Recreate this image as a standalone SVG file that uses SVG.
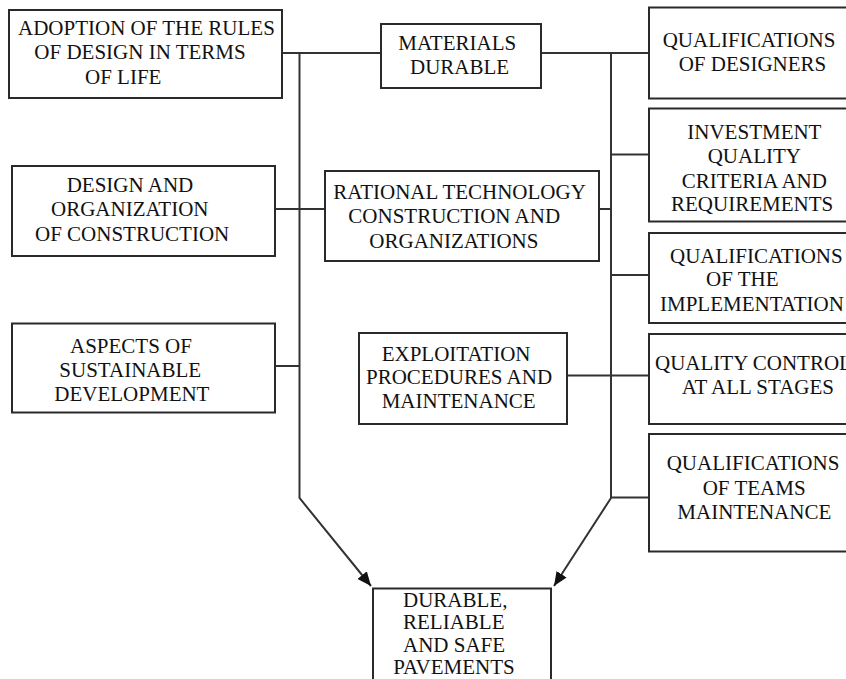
<svg xmlns="http://www.w3.org/2000/svg" width="846" height="679" viewBox="0 0 846 679">
<style>
.box{fill:#fff;stroke:#2a2a2a;stroke-width:2}
.t{font-family:"Liberation Serif","Times New Roman",serif;font-size:21px;fill:#111}
.c{fill:none;stroke:#333;stroke-width:2}
</style>
<defs>
<marker id="ah" markerUnits="userSpaceOnUse" markerWidth="16" markerHeight="12" refX="14" refY="6" orient="auto">
<path d="M0,0 L14,6 L0,12 Z" fill="#111"/>
</marker>
</defs>
<rect width="846" height="679" fill="#fff"/>
<g id="connectors">
<line class="c" x1="282" y1="53" x2="381" y2="53"/>
<line class="c" x1="541" y1="53" x2="649" y2="53"/>
<polyline class="c" points="299.5,53 299.5,498 371,586" marker-end="url(#ah)"/>
<polyline class="c" points="611,53 611,498 554,586" marker-end="url(#ah)"/>
<line class="c" x1="275" y1="209" x2="325" y2="209"/>
<line class="c" x1="599" y1="209" x2="611" y2="209"/>
<line class="c" x1="611" y1="154.5" x2="649" y2="154.5"/>
<line class="c" x1="611" y1="275" x2="649" y2="275"/>
<line class="c" x1="567" y1="375.5" x2="649" y2="375.5"/>
<line class="c" x1="275" y1="366" x2="299.5" y2="366"/>
<line class="c" x1="611" y1="497.5" x2="649" y2="497.5"/>
</g>
<g id="adoption">
<rect class="box" x="9" y="10" width="273" height="88"/>
<text class="t" x="18" y="34.5">ADOPTION OF THE RULES</text>
<text class="t" x="34.3" y="59">OF DESIGN IN TERMS</text>
<text class="t" x="85" y="83.5">OF LIFE</text>
</g>
<g id="materials">
<rect class="box" x="381" y="24" width="160" height="64"/>
<text class="t" x="398.3" y="50">MATERIALS</text>
<text class="t" x="410" y="74">DURABLE</text>
</g>
<g id="qual-designers">
<rect class="box" x="649" y="7.5" width="210" height="91"/>
<text class="t" x="662.7" y="47">QUALIFICATIONS</text>
<text class="t" x="678.7" y="71">OF DESIGNERS</text>
</g>
<g id="investment">
<rect class="box" x="649" y="108.5" width="210" height="113"/>
<text class="t" x="687.3" y="138.5">INVESTMENT</text>
<text class="t" x="707.7" y="163">QUALITY</text>
<text class="t" x="681.7" y="187.5">CRITERIA AND</text>
<text class="t" x="671" y="211">REQUIREMENTS</text>
</g>
<g id="design">
<rect class="box" x="12" y="166" width="263" height="90"/>
<text class="t" x="66.7" y="191.7">DESIGN AND</text>
<text class="t" x="51" y="215.7">ORGANIZATION</text>
<text class="t" x="35" y="240.7">OF CONSTRUCTION</text>
</g>
<g id="rational">
<rect class="box" x="325" y="171" width="274" height="90"/>
<text class="t" x="333.3" y="199">RATIONAL TECHNOLOGY</text>
<text class="t" x="348.3" y="223.3">CONSTRUCTION AND</text>
<text class="t" x="369.3" y="247.7">ORGANIZATIONS</text>
</g>
<g id="implementation">
<rect class="box" x="649" y="233" width="210" height="90"/>
<text class="t" x="670" y="263.3">QUALIFICATIONS</text>
<text class="t" x="706" y="286">OF THE</text>
<text class="t" x="660" y="310.7">IMPLEMENTATION</text>
</g>
<g id="aspects">
<rect class="box" x="12" y="323.5" width="263" height="89"/>
<text class="t" x="70" y="352.7">ASPECTS OF</text>
<text class="t" x="59.3" y="376.7">SUSTAINABLE</text>
<text class="t" x="54.3" y="400.7">DEVELOPMENT</text>
</g>
<g id="exploitation">
<rect class="box" x="359" y="333" width="208" height="91"/>
<text class="t" x="381.7" y="361">EXPLOITATION</text>
<text class="t" x="366" y="384.3">PROCEDURES AND</text>
<text class="t" x="381.7" y="408.3">MAINTENANCE</text>
</g>
<g id="quality-control">
<rect class="box" x="649" y="334" width="210" height="90"/>
<text class="t" x="655" y="370">QUALITY CONTROL</text>
<text class="t" x="681.7" y="394">AT ALL STAGES</text>
</g>
<g id="teams">
<rect class="box" x="649" y="434" width="210" height="117.5"/>
<text class="t" x="666.7" y="470">QUALIFICATIONS</text>
<text class="t" x="702.7" y="495">OF TEAMS</text>
<text class="t" x="677.3" y="519">MAINTENANCE</text>
</g>
<g id="pavements">
<rect class="box" x="373" y="588.5" width="178" height="110"/>
<text class="t" x="403" y="606.7">DURABLE,</text>
<text class="t" x="403" y="629.3">RELIABLE</text>
<text class="t" x="403" y="651.7">AND SAFE</text>
<text class="t" x="393.3" y="674">PAVEMENTS</text>
</g>
</svg>
